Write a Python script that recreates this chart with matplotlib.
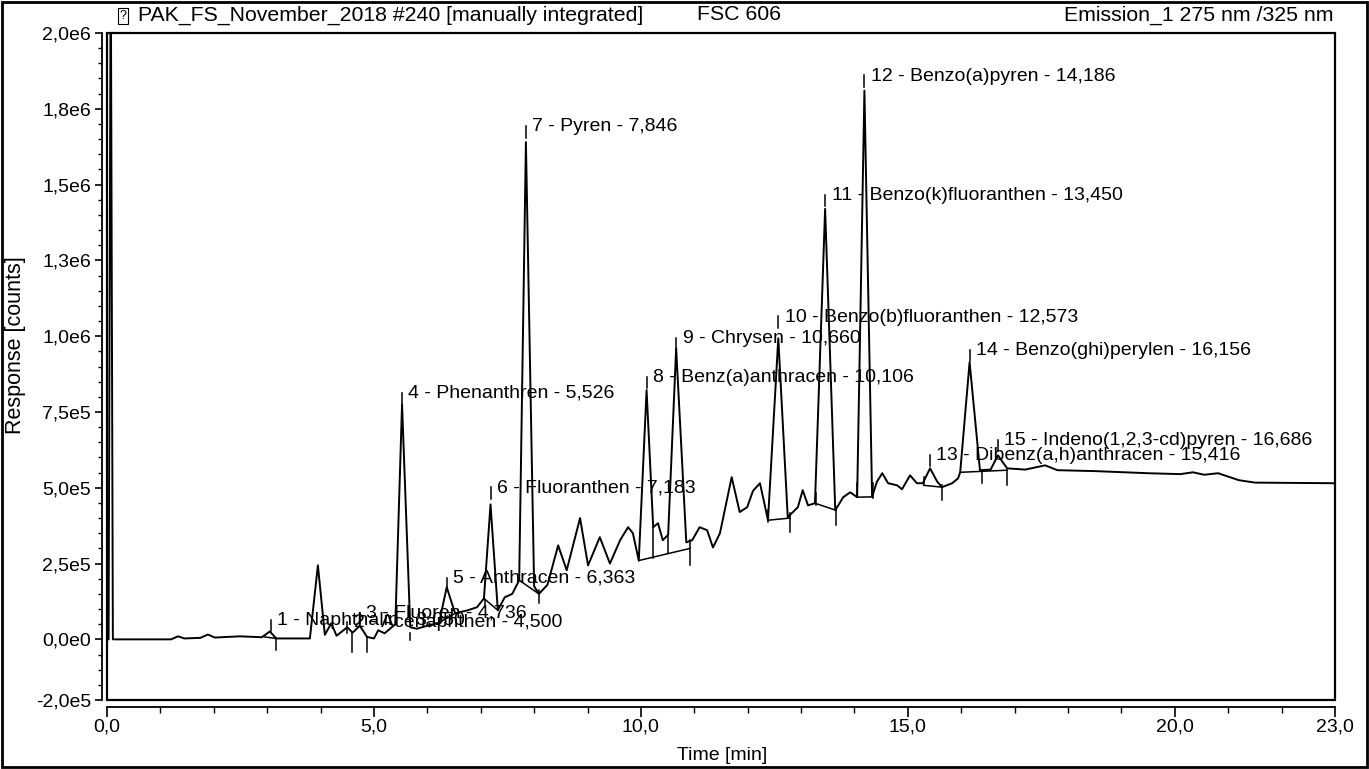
# PAK chromatogram, fluorescence channel Emission_1
import matplotlib.pyplot as plt
from matplotlib.patches import Rectangle
from matplotlib.ticker import FixedLocator

plt.rcParams['font.family'] = ['Liberation Sans', 'DejaVu Sans']

# trace vertices: time [min] and response [counts]
time = [0.00, 0.03, 0.07, 0.11, 1.20, 1.33, 1.45, 1.75, 1.89, 2.02, 2.49, 2.90, 3.05, 3.17,
        3.80, 3.95, 4.08, 4.20, 4.30, 4.50, 4.60, 4.736, 4.87, 5.00, 5.08, 5.20, 5.40, 5.526,
        5.68, 5.80, 6.00, 6.22, 6.363, 6.52, 6.76, 6.93, 7.06, 7.183, 7.32, 7.45, 7.59, 7.72,
        7.846, 8.00, 8.09, 8.25, 8.45, 8.61, 8.86, 9.01, 9.23, 9.42, 9.61, 9.76, 9.85, 9.96,
        10.106, 10.23, 10.32, 10.41, 10.51, 10.660, 10.85, 10.96, 11.10, 11.24, 11.35, 11.48,
        11.70, 11.85, 11.99, 12.10, 12.23, 12.38, 12.573, 12.75, 12.94, 13.03, 13.13, 13.26,
        13.450, 13.64, 13.79, 13.92, 14.05, 14.186, 14.33, 14.42, 14.52, 14.63, 14.80, 14.89,
        15.04, 15.17, 15.28, 15.416, 15.55, 15.64, 15.83, 15.94, 15.98, 16.156, 16.35, 16.55,
        16.686, 16.86, 17.20, 17.57, 17.80, 18.50, 19.50, 20.10, 20.34, 20.55, 20.81, 21.20,
        21.50, 23.00]
response = [0, 0, 2.3e6, 0, 0, 10e3, 3e3, 5e3, 16e3, 6e3, 10e3, 7e3, 26e3, 3e3,
            3e3, 244e3, 15e3, 53e3, 12e3, 40e3, 22e3, 45e3, 8e3, 3e3, 30e3, 20e3, 50e3, 775e3,
            40e3, 35e3, 45e3, 55e3, 172e3, 86e3, 96e3, 106e3, 135e3, 445e3, 96e3, 139e3, 150e3, 195e3,
            1.64e6, 175e3, 150e3, 180e3, 310e3, 228e3, 400e3, 244e3, 337e3, 250e3, 327e3, 370e3, 350e3, 260e3,
            822e3, 370e3, 383e3, 327e3, 345e3, 960e3, 320e3, 327e3, 370e3, 360e3, 303e3, 350e3,
            535e3, 420e3, 436e3, 490e3, 515e3, 393e3, 993e3, 403e3, 436e3, 492e3, 442e3, 449e3,
            1.42e6, 426e3, 469e3, 485e3, 469e3, 1.81e6, 470e3, 520e3, 548e3, 515e3, 508e3, 495e3,
            541e3, 515e3, 515e3, 564e3, 520e3, 502e3, 515e3, 531e3, 551e3, 914e3, 558e3, 560e3,
            607e3, 564e3, 560e3, 574e3, 558e3, 555e3, 548e3, 545e3, 551e3, 543e3, 548e3, 525e3,
            517e3, 515e3]

# peak labels: text, retention time, label height
peak_names = ['1 - Naphthalin - 3,050', '2 - Acenaphthen - 4,500', '3 - Fluoren - 4,736',
              '4 - Phenanthren - 5,526', '5 - Anthracen - 6,363', '6 - Fluoranthen - 7,183',
              '7 - Pyren - 7,846', '8 - Benz(a)anthracen - 10,106', '9 - Chrysen - 10,660',
              '10 - Benzo(b)fluoranthen - 12,573', '11 - Benzo(k)fluoranthen - 13,450',
              '12 - Benzo(a)pyren - 14,186', '13 - Dibenz(a,h)anthracen - 15,416',
              '14 - Benzo(ghi)perylen - 16,156', '15 - Indeno(1,2,3-cd)pyren - 16,686']
peak_rt = [3.07, 4.500, 4.736, 5.526, 6.363, 7.183, 7.846, 10.106, 10.660, 12.573, 13.450,
           14.186, 15.416, 16.156, 16.686]
label_y = [63e3, 56e3, 86e3, 812e3, 201e3, 500e3, 1.69e6, 865e3, 993e3, 1.063e6, 1.465e6,
           1.858e6, 607e3, 954e3, 657e3]

# manual integration baselines (t0, v0, t1, v1)
baselines = [(2.95, 8e3, 3.17, 3e3), (6.22, 55e3, 6.52, 86e3), (7.06, 135e3, 7.32, 96e3),
             (7.72, 195e3, 8.09, 150e3), (9.96, 260e3, 10.92, 300e3), (12.38, 393e3, 12.79, 400e3),
             (13.26, 449e3, 13.65, 426e3), (14.05, 469e3, 14.33, 470e3), (15.30, 508e3, 15.64, 502e3),
             (15.98, 551e3, 16.86, 558e3)]
# peak delimiters (t, top, bottom)
delimiters = [(3.17, 3e3, -36e3), (4.59, 22e3, -43e3), (4.87, 8e3, -43e3), (5.68, 20e3, -3e3),
              (7.08, 129e3, 106e3), (8.09, 162e3, 119e3), (10.23, 370e3, 267e3), (10.51, 345e3, 284e3),
              (10.92, 327e3, 244e3), (12.38, 426e3, 386e3), (12.79, 416e3, 353e3), (13.28, 482e3, 442e3),
              (13.65, 436e3, 376e3), (14.05, 515e3, 469e3), (14.35, 515e3, 465e3), (15.30, 535e3, 508e3),
              (15.64, 508e3, 459e3), (16.39, 558e3, 515e3), (16.86, 558e3, 508e3)]

y_ticks = [-2e5, 0, 2.5e5, 5e5, 7.5e5, 1e6, 1.25e6, 1.5e6, 1.75e6, 2e6]
y_labels = ['-2,0e5', '0,0e0', '2,5e5', '5,0e5', '7,5e5', '1,0e6', '1,3e6', '1,5e6', '1,8e6', '2,0e6']
x_ticks = [0, 5, 10, 15, 20, 23]
x_labels = ['0,0', '5,0', '10,0', '15,0', '20,0', '23,0']

W, H = 1369, 769
fig = plt.figure(figsize=(W / 100, H / 100), dpi=100)
ax = fig.add_axes([107 / W, 1 - 700 / H, (1335 - 107) / W, (700 - 33) / H])
ax.set_xlim(0, 23)
ax.set_ylim(-2e5, 2e6)

ax.plot(time, response, color='black', lw=1.4)
for t0, v0, t1, v1 in baselines:
    ax.plot([t0, t1], [v0, v1], color='black', lw=1.1)
for t, top, bot in delimiters:
    ax.plot([t, t], [bot, top], color='black', lw=1.1)
for name, rt, ly in zip(peak_names, peak_rt, label_y):
    ax.plot([rt, rt], [ly - 36e3, ly + 2e3], color='black', lw=1.1)
    ax.text(rt + 0.12, ly, name, fontsize=14, va='center', ha='left')

# frame around plot area, axes drawn slightly outside it
ax.add_patch(Rectangle((0, 0), 1, 1, transform=ax.transAxes, fill=False, lw=1.6, ec='black', clip_on=False))
ax.spines['top'].set_visible(False)
ax.spines['right'].set_visible(False)
ax.spines['left'].set_position(('outward', 3.5))
ax.spines['bottom'].set_position(('outward', 5))
ax.spines['left'].set_linewidth(1.3)
ax.spines['bottom'].set_linewidth(1.3)

ax.set_yticks(y_ticks, labels=y_labels)
ax.yaxis.set_minor_locator(FixedLocator([-2e5 + i * 5e4 for i in range(45)]))
ax.set_xticks(x_ticks, labels=x_labels)
ax.xaxis.set_minor_locator(FixedLocator(list(range(24))))
ax.tick_params(axis='y', which='major', length=5, width=1.2, labelsize=14, pad=3)
ax.tick_params(axis='y', which='minor', length=3, width=1.0)
ax.tick_params(axis='x', which='major', length=7, width=1.2, labelsize=14, pad=1)
ax.tick_params(axis='x', which='minor', length=4, width=1.0)

fig.text(16 / W, 1 - 345 / H, 'Response [counts]', rotation=90, fontsize=15.5, ha='center', va='center')
fig.text(722 / W, 1 - 756 / H, 'Time [min]', fontsize=14, ha='center', va='center')

fig.text(123 / W, 1 - 16 / H, '?', fontsize=9, ha='center', va='center',
         bbox=dict(boxstyle='square,pad=0.15', fc='white', ec='black', lw=0.8))
fig.text(138 / W, 1 - 15 / H, 'PAK_FS_November_2018 #240 [manually integrated]', fontsize=15.3, va='center')
fig.text(697 / W, 1 - 15 / H, 'FSC 606', fontsize=15.3, va='center')
fig.text(1333 / W, 1 - 15 / H, 'Emission_1 275 nm /325 nm', fontsize=15.3, va='center', ha='right')

# page border
fig.patches.append(Rectangle((0.0015, 0.003), 0.997, 0.995, transform=fig.transFigure,
                             fill=False, lw=2, ec='black'))

fig.savefig('out.png', dpi=100)
